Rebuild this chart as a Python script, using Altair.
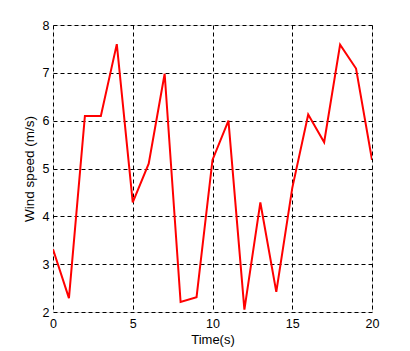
import altair as alt
import pandas as pd

time_s = list(range(0, 21))
wind_speed = [3.31, 2.29, 6.10, 6.10, 7.60, 4.29, 5.10, 6.98, 2.21, 2.31, 5.18,
              6.00, 2.05, 4.29, 2.42, 4.59, 6.13, 5.55, 7.59, 7.09, 5.18]
x_ticks = [0, 5, 10, 15, 20]
y_ticks = [2, 3, 4, 5, 6, 7, 8]

df = pd.DataFrame({"t": time_s, "v": wind_speed})

font = "Liberation Sans"

chart = alt.Chart(df).mark_line(color="#ff0000", strokeWidth=2, clip=True).encode(
    x=alt.X("t:Q", scale=alt.Scale(domain=[0, 20], nice=False, zero=False),
            axis=alt.Axis(values=x_ticks, title="Time(s)", format="d",
                          grid=True, gridColor="black", gridDash=[4, 3], gridOpacity=1,
                          ticks=False, domain=False, labelPadding=5,
                          labelFont=font, labelFontSize=12.5, labelColor="black",
                          titleFont=font, titleFontSize=13, titleFontWeight="normal",
                          titleColor="black", titlePadding=4, labelFlush=False)),
    y=alt.Y("v:Q", scale=alt.Scale(domain=[2, 8], nice=False, zero=False),
            axis=alt.Axis(values=y_ticks, title="Wind speed (m/s)", format="d",
                          grid=True, gridColor="black", gridDash=[4, 3], gridOpacity=1,
                          ticks=False, domain=False, labelPadding=4,
                          labelFont=font, labelFontSize=12.5, labelColor="black",
                          titleFont=font, titleFontSize=13.5, titleFontWeight="normal",
                          titleColor="black", titlePadding=6, labelFlush=False)),
).properties(
    width=319, height=287,
    autosize=alt.AutoSizeParams(type="none"),
    padding={"left": 45, "top": 17, "right": 20, "bottom": 40},
).configure_view(
    stroke="black", strokeWidth=1
).configure(background="white")

chart.save("out.html", embed_options={"renderer": "svg", "actions": False})
